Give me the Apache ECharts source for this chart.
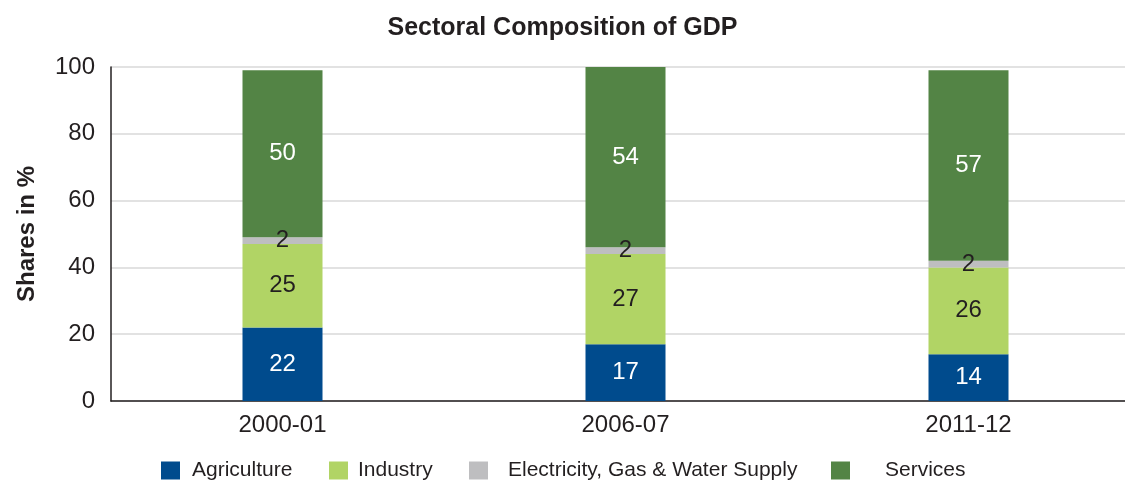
<!DOCTYPE html>
<html>
<head>
<meta charset="utf-8">
<script src="https://cdn.jsdelivr.net/npm/echarts@6/dist/echarts.min.js"></script>
<style>
  html, body { margin: 0; padding: 0; background: #fff; }
  #chart { width: 1125px; height: 481px; }
</style>
</head>
<body>
<div id="chart"></div>
<script>
const years = ['2000-01', '2006-07', '2011-12'];
const agriculture = [22, 17, 14];
const industry = [25, 27, 26];
const electricity = [2, 2, 2];
const services = [50, 54, 57];
const yTicks = [0, 20, 40, 60, 80, 100];

const FONT = 'Liberation Sans, Arial, Helvetica, sans-serif';
const INK = '#231f20';
const colors = {
  Agriculture: '#004b8d',
  Industry: '#b1d465',
  'Electricity, Gas & Water Supply': '#bebec0',
  Services: '#538445'
};

function barSeries(name, data, labelColor) {
  return {
    name: name,
    type: 'bar',
    stack: 'gdp',
    data: data,
    barWidth: 80,
    itemStyle: { color: colors[name] },
    label: {
      show: true,
      position: 'inside',
      color: labelColor,
      fontFamily: FONT,
      fontSize: 24
    },
    emphasis: { disabled: true }
  };
}

// one legend block per item so each entry sits at its own spot
function legendAt(name, left, textGap) {
  return {
    data: [name],
    left: left,
    top: 460,
    padding: 0,
    itemWidth: 19,
    itemHeight: 18,
    icon: 'rect',
    selectedMode: false,
    textStyle: { fontFamily: FONT, fontSize: 21, color: INK, padding: [0, 0, 0, textGap] }
  };
}

const chart = echarts.init(document.getElementById('chart'), null, { renderer: 'canvas' });
chart.setOption({
  animation: false,
  backgroundColor: '#fff',
  title: {
    text: 'Sectoral Composition of GDP',
    left: 'center',
    top: 11,
    textStyle: { fontFamily: FONT, fontSize: 25, fontWeight: 'bold', color: INK }
  },
  legend: [
    legendAt('Agriculture', 161, 7),
    legendAt('Industry', 329, 5),
    legendAt('Electricity, Gas & Water Supply', 469, 15),
    legendAt('Services', 831, 30)
  ],
  grid: { left: 111, width: 1029, top: 67, bottom: 80, outerBoundsMode: 'none' },
  xAxis: {
    type: 'category',
    data: years,
    axisLine: { lineStyle: { color: INK, width: 1.5 } },
    axisTick: { show: false },
    axisLabel: { fontFamily: FONT, fontSize: 24, color: INK, margin: 12 }
  },
  yAxis: {
    type: 'value',
    min: yTicks[0],
    max: yTicks[yTicks.length - 1],
    interval: 20,
    name: 'Shares in %',
    nameLocation: 'middle',
    nameGap: 72,
    nameTextStyle: { fontFamily: FONT, fontSize: 24, fontWeight: 'bold', color: INK },
    axisLine: { show: true, lineStyle: { color: INK, width: 1.5 } },
    axisTick: { show: false },
    axisLabel: { fontFamily: FONT, fontSize: 24, color: INK, margin: 16 },
    splitLine: { lineStyle: { color: '#d9d9d9', width: 1.5 } }
  },
  series: [
    barSeries('Agriculture', agriculture, '#ffffff'),
    barSeries('Industry', industry, INK),
    barSeries('Electricity, Gas & Water Supply', electricity, INK),
    barSeries('Services', services, '#ffffff')
  ]
});
</script>
</body>
</html>
